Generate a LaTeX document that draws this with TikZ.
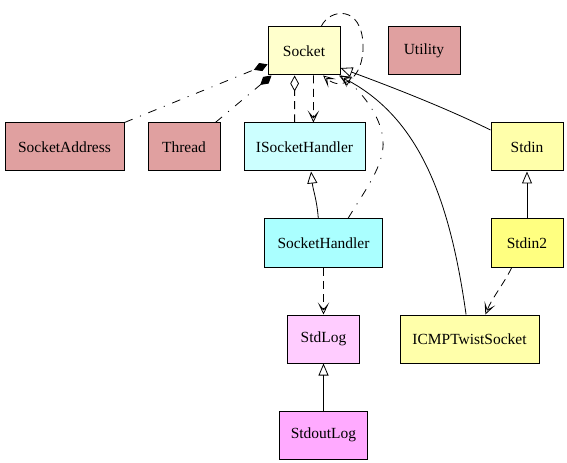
\documentclass[tikz,border=0pt]{standalone}
\usepackage{fontspec}
\setmainfont{Liberation Serif}
\usetikzlibrary{arrows.meta,calc}
\definecolor{cSocket}{HTML}{FFFFCC}
\definecolor{cRose}{HTML}{E0A0A0}
\definecolor{cISH}{HTML}{CCFFFF}
\definecolor{cSH}{HTML}{AAFFFF}
\definecolor{cStdin}{HTML}{FFFFAA}
\definecolor{cStdinTwo}{HTML}{FFFF80}
\definecolor{cStdLog}{HTML}{FFCCFF}
\definecolor{cStdoutLog}{HTML}{FFAAFF}
\begin{document}
\begin{tikzpicture}[x=0.75pt,y=-0.75pt,
  cls/.style={draw=black, line width=0.75pt, rectangle, minimum height=36pt,
    inner sep=0pt, font=\fontsize{11.6}{13}\selectfont},
  conn/.style={line width=0.6pt},
  dashdot/.style={dash pattern=on 6.5pt off 6pt on 0.8pt off 6pt},
  dsh/.style={dash pattern=on 6pt off 4pt},
  inhe/.style={-{Triangle[open,length=9pt,width=7.5pt]}},
  depe/.style={-{Stealth[open,length=9pt,width=8.5pt,inset=5pt]}},
  compo/.style={-{Diamond[length=11pt,width=6.5pt]}},
  aggro/.style={-{Diamond[open,length=12pt,width=6.5pt]}}
]
\useasboundingbox (0,0) rectangle (567,463);

\node[cls, fill=cSocket, minimum width=54pt] (Socket) at (304,51) {Socket};
\node[cls, fill=cRose, minimum width=54pt] (Utility) at (424,51) {Utility};
\node[cls, fill=cRose, minimum width=89.25pt] (SocketAddress) at (64.5,147) {SocketAddress};
\node[cls, fill=cRose, minimum width=54pt] (Thread) at (184,147) {Thread};
\node[cls, fill=cISH, minimum width=90.75pt] (ISocketHandler) at (304.5,147) {ISocketHandler};
\node[cls, fill=cStdin, minimum width=54pt] (Stdin) at (527,147) {Stdin};
\node[cls, fill=cSH, minimum width=88.5pt] (SocketHandler) at (323.5,243) {SocketHandler};
\node[cls, fill=cStdinTwo, minimum width=54pt] (Stdin2) at (527,243) {Stdin2};
\node[cls, fill=cStdLog, minimum width=54pt] (StdLog) at (323.5,339) {StdLog};
\node[cls, fill=cStdin, minimum width=104.25pt] (ICMPTwistSocket) at (469.5,339) {ICMPTwistSocket};
\node[cls, fill=cStdoutLog, minimum width=66pt] (StdoutLog) at (323.5,435) {StdoutLog};

% compositions
\draw[conn, dashdot, compo] (SocketAddress.north east) -- (Socket.200);
\draw[conn, dashdot, compo] (Thread.38) -- (Socket.217);
% aggregation
\draw[conn, dsh, aggro] (ISocketHandler.112) -- (Socket.249);
% dependencies
\draw[conn, dsh, depe] (Socket.291) -- (ISocketHandler.70);
\draw[conn, dashdot, depe] (SocketHandler.45) .. controls (365,190) and (385,165) .. (383,140)
   .. controls (381,115) and (360,90) .. (Socket.south east);
\draw[conn, dsh, depe] (Socket.55) .. controls (330,8) and (362,5) .. (363,45)
   .. controls (364,78) and (342,92) .. (Socket.308);
\draw[conn, dsh, depe] (SocketHandler.south) -- (StdLog.north);
\draw[conn, dsh, depe] (Stdin2.238) .. controls (505,282) and (492,298) .. (ICMPTwistSocket.57);
% inheritance
\draw[conn, inhe] (SocketHandler.102) .. controls (317,200) and (313,190) .. (ISocketHandler.285);
\draw[conn, inhe] (Stdin.155) .. controls (450,110) and (400,90) .. (Socket.335);
\draw[conn, inhe] (ICMPTwistSocket.98) .. controls (450,200) and (420,120) .. (Socket.325);
\draw[conn, inhe] (Stdin2.north) -- (Stdin.south);
\draw[conn, inhe] (StdoutLog.north) -- (StdLog.south);
\end{tikzpicture}
\end{document}
